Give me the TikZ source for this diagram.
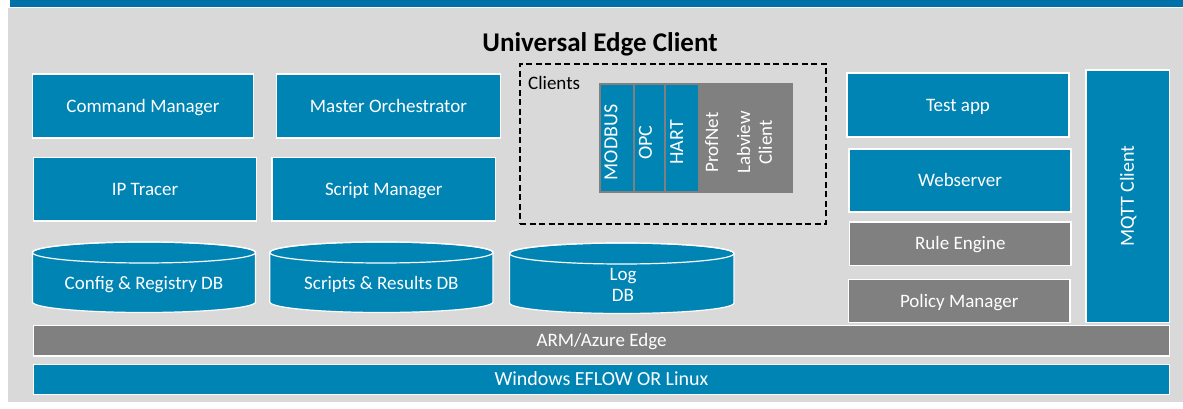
\documentclass[tikz,border=0pt]{standalone}
\usepackage{fontspec}
\setmainfont{Carlito}
\definecolor{edgeblue}{RGB}{0,132,180}
\definecolor{topblue}{RGB}{0,112,168}
\definecolor{boxgray}{RGB}{128,128,128}
\definecolor{panelgray}{RGB}{217,217,217}
\newcommand{\lblfont}{\fontsize{19}{22}\selectfont}
\newcommand{\capsfont}{\fontsize{20}{23}\selectfont}

\begin{document}
\begin{tikzpicture}[
    x=1pt, y=1pt,
    caps/.style={text height=12.2pt, text depth=0pt},
    block/.style={rectangle, draw=white, line width=1.2pt, text=white, font=\lblfont, inner sep=0pt, caps},
    blueblock/.style={block, fill=edgeblue},
    grayblock/.style={block, fill=boxgray},
    proto/.style={rectangle, fill=edgeblue, inner sep=0pt, minimum width=#1, minimum height=106pt},
    vtext/.style={text=white, font=\lblfont, rotate=90, inner sep=0pt},
    dbshape/.style={fill=edgeblue, draw=white, line width=1.2pt},
    dblabel/.style={text=white, font=\lblfont, inner sep=0pt},
]

% Page and panel
\fill[white] (0,0) rectangle (1183,409);
\fill[panelgray] (8,7) rectangle (1183,401);
\fill[topblue] (10,402) rectangle (1183,409);
\useasboundingbox (0,0) rectangle (1183,409);

% Title
\node[font=\fontsize{27}{32}\selectfont\bfseries, anchor=base, inner sep=0pt] (title) at (600,357.3) {Universal Edge Client};

% Left blocks
\node[blueblock, minimum width=221pt, minimum height=64pt] (cmdmgr) at (143,303) {Command Manager};
\node[blueblock, minimum width=223.5pt, minimum height=64pt] (orch) at (388.5,303) {Master Orchestrator};
\node[blueblock, minimum width=222.7pt, minimum height=63.3pt] (iptrace) at (145,219.6) {IP Tracer};
\node[blueblock, minimum width=223.6pt, minimum height=63.7pt] (scriptmgr) at (383.8,219.8) {Script Manager};

% Clients group
\node[draw, dash pattern=on 6pt off 3.5pt, line width=1.5pt, minimum width=306pt, minimum height=160pt, inner sep=0pt] (clients) at (673,265) {};
\node[font=\lblfont, anchor=base west, inner sep=0pt] (clientslbl) at (528,319.7) {Clients};
\node[fill=boxgray, minimum width=194pt, minimum height=110pt, inner sep=0pt] (protobg) at (696,271) {};
\node[proto=32pt] (modbus) at (617,271) {};
\node[proto=29pt] (opc) at (649.5,271) {};
\node[proto=32pt] (hart) at (682,271) {};
\node[vtext, caps, font=\capsfont] (modbustxt) at (611.3,266.5) {MODBUS};
\node[vtext, caps, font=\capsfont] (opctxt) at (645.8,266.5) {OPC};
\node[vtext, caps, font=\capsfont] (harttxt) at (677,266.5) {HART};
\node[vtext, caps] (profnet) at (712,266.5) {ProfNet};
\node[vtext, align=center, font=\fontsize{19}{21.7}\selectfont] (labview) at (754.4,266.5) {Labview\\Client};

% Right blocks
\node[blueblock, minimum width=222pt, minimum height=64pt] (testapp) at (958,304) {Test app};
\node[blueblock, minimum width=222pt, minimum height=63pt] (websrv) at (960,228.5) {Webserver};
\node[grayblock, minimum width=221.5pt, minimum height=43.5pt] (rules) at (960.3,165.3) {Rule Engine};
\node[grayblock, minimum width=221.6pt, minimum height=43pt] (policy) at (959.2,108) {Policy Manager};
\node[blueblock, rotate=90, font=\capsfont, minimum width=252.5pt, minimum height=83.5pt] (mqtt) at (1127.8,212.8) {MQTT Client};

% Databases
\filldraw[dbshape] (32.5,156.5) -- (32.5,107) arc[start angle=180, end angle=360, x radius=111.5, y radius=10.5] -- (255.5,156.5) arc[start angle=0, end angle=180, x radius=111.5, y radius=10.5] -- cycle;
\draw[white, line width=1.2pt] (144,156.5) ellipse[x radius=111.5, y radius=10.5];
\node[dblabel, caps] (cfgdb) at (144,125.3) {Config \& Registry DB};

\filldraw[dbshape] (269.8,156.5) -- (269.8,107) arc[start angle=180, end angle=360, x radius=111.6, y radius=10.5] -- (493,156.5) arc[start angle=0, end angle=180, x radius=111.6, y radius=10.5] -- cycle;
\draw[white, line width=1.2pt] (381.4,156.5) ellipse[x radius=111.6, y radius=10.5];
\node[dblabel, caps] (resdb) at (381.4,125.3) {Scripts \& Results DB};

\filldraw[dbshape] (509.6,155.5) -- (509.6,106) arc[start angle=180, end angle=360, x radius=112.2, y radius=10.5] -- (734,155.5) arc[start angle=0, end angle=180, x radius=112.2, y radius=10.5] -- cycle;
\draw[white, line width=1.2pt] (621.8,155.5) ellipse[x radius=112.2, y radius=10.5];
\node[dblabel, align=center, font=\fontsize{19}{21}\selectfont] (logdb) at (623,123.9) {Log\\DB};

% Platform layers
\node[grayblock, minimum width=1135.7pt, minimum height=30.5pt] (armedge) at (601.5,68.3) {ARM/Azure Edge};
\node[blueblock, font=\capsfont, minimum width=1135.7pt, minimum height=30pt] (eflow) at (601.5,29.7) {Windows EFLOW OR Linux};

\end{tikzpicture}
\end{document}
